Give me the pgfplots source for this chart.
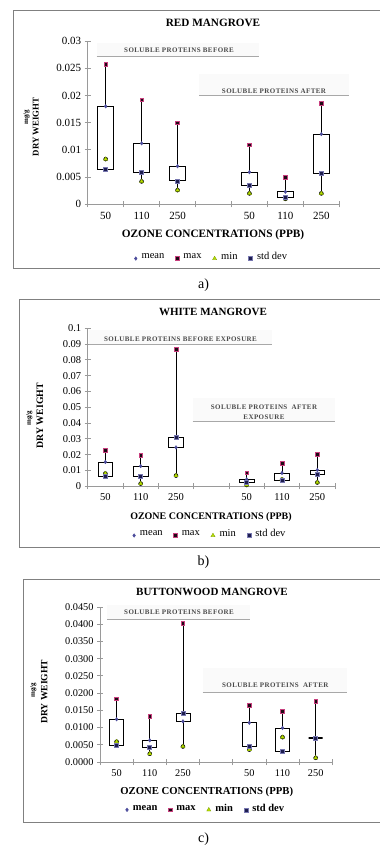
\documentclass[border=0pt]{standalone}
\usepackage{pgfplots}
\pgfplotsset{compat=1.18}
\usepackage{pgfplotstable}
\usepackage{fontspec}
\setmainfont{Liberation Serif}
\newfontfamily\annfont[LetterSpace=6]{Liberation Serif}
\definecolor{meancol}{HTML}{4B4B9B}
\definecolor{maxfill}{HTML}{1E0A14}
\definecolor{maxdraw}{HTML}{C8407F}
\definecolor{minfill}{HTML}{B8E000}
\definecolor{mindraw}{HTML}{7A9A00}
\definecolor{stdfill}{HTML}{1E1E50}
\definecolor{stddraw}{HTML}{7878B0}
\definecolor{axgray}{HTML}{9A9A9A}
\definecolor{framegray}{HTML}{808080}
\definecolor{anntext}{HTML}{4A4A4A}
\definecolor{annline}{HTML}{A8A8A8}
\definecolor{annbg}{HTML}{FAFAFA}

% red mangrove
\pgfplotstableread{
x mean max min std
0 0.0180 0.0257 0.0083 0.0064
1 0.0112 0.0192 0.0042 0.0059
2 0.0070 0.0150 0.0026 0.0043
4 0.0059 0.0109 0.0020 0.0034
5 0.0023 0.0050 0.0010 0.0013
6 0.0129 0.0185 0.0020 0.0057
}\redtab
% white mangrove
\pgfplotstableread{
x mean max min std
0 0.0154 0.0228 0.0081 0.0064
1 0.0128 0.0197 0.0017 0.0062
2 0.0246 0.0867 0.0068 0.0308
4 0.0044 0.0085 0.0008 0.0023
5 0.0084 0.0146 0.0043 0.0035
6 0.0103 0.0202 0.0024 0.0074
}\whitetab
% buttonwood mangrove
\pgfplotstableread{
x mean max min std
0 0.0124 0.0183 0.0059 0.0049
1 0.0063 0.0133 0.0024 0.0043
2 0.0118 0.0403 0.0045 0.0140
4 0.0114 0.0164 0.0036 0.0045
5 0.0099 0.0148 0.0072 0.0031
6 0.0070 0.0176 0.0012 0.0070
}\buttontab

\pgfplotsset{
  stockaxis/.style={
    scale only axis,
    anchor=south west,
    axis x line*=bottom, axis y line*=left,
    axis line style={draw=axgray, line width=0.8pt},
    xmin=-0.5, xmax=6.5, ymin=0,
    scaled y ticks=false,
    xtick={-0.5,0.5,1.5,2.5,3.5,4.5,5.5,6.5}, xticklabels={},
    extra x ticks={0,1,2,4,5,6},
    extra x tick labels={50,110,250,50,110,250},
    extra x tick style={major tick length=0pt},
    x tick label style={yshift=-4pt},
    tick align=center,
    major tick length=6pt,
    tick style={draw=axgray, line width=0.8pt},
    clip=false,
    legend columns=4,
    legend style={draw=none, fill=none, anchor=center,
      /tikz/every odd column/.append style={column sep=2.5pt},
      /tikz/every even column/.append style={column sep=9pt}},
    legend image code/.code={\path (0pt,-3pt) (0pt,3pt); \draw[##1] plot coordinates {(0pt,-1.5pt)};},
  },
}
\newcommand{\stbox}[5][]{\addplot[forget plot, fill=white, draw=black, line width=0.8pt, #1] coordinates {(#2,#4) (#3,#4) (#3,#5) (#2,#5)} -- cycle;}
\newcommand{\stockwhisk}[1]{%
  \addplot[forget plot, only marks, mark=none, error bars/.cd, y dir=plus, y explicit, error mark=none, error bar style={black, line width=0.8pt}] table[x=x, y=min, y error expr=\thisrow{max}-\thisrow{min}]{#1};
}
\newcommand{\stockmarks}[1]{%
  \addplot[only marks, mark=diamond*, mark size=1.8pt, draw=meancol, fill=meancol] table[x=x,y=mean]{#1};
  \addlegendentry{mean}
  \addplot[only marks, mark=square*, mark size=1.8pt, draw=maxdraw, fill=maxfill, line width=0.6pt] table[x=x,y=max]{#1};
  \addlegendentry{max}
  \addplot[only marks, mark=triangle*, mark size=2.4pt, draw=mindraw, fill=minfill, line width=0.3pt] table[x=x,y=min]{#1};
  \addlegendentry{min}
  \addplot[only marks, mark=square*, mark size=2pt, draw=stddraw, fill=stdfill, line width=0.6pt] table[x=x,y=std]{#1};
  \addlegendentry{std dev}
}
\newcommand{\annot}[1]{\annfont\bfseries\fontsize{7}{8}\selectfont #1}

\begin{document}
\begin{tikzpicture}
\useasboundingbox (0pt,0pt) rectangle (380pt,847pt);

% ---------------- panel a ----------------
\draw[framegray, line width=0.9pt] (385pt,837pt) -- (13pt,837pt) -- (13pt,579pt) -- (385pt,579pt);
\fill[annbg] (96.7pt,804pt) rectangle (259.3pt,790.3pt);
\fill[annbg] (199.3pt,773pt) rectangle (349.3pt,751.3pt);
\begin{axis}[stockaxis, at={(87.7pt,642.7pt)}, width=251.6pt, height=163.3pt,
  ymax=0.03,
  ytick={0,0.005,0.01,0.015,0.02,0.025,0.03},
  yticklabels={0,0.005,0.01,0.015,0.02,0.025,0.03},
  tick label style={font=\fontsize{11}{13}\selectfont},
  legend style={at={(0.493,-0.323)}, font=\fontsize{10.5}{12}\selectfont}]
\stockwhisk{\redtab}
\stbox{-0.22}{0.22}{0.0064}{0.0180}
\stbox{0.78}{1.22}{0.0059}{0.0112}
\stbox{1.78}{2.22}{0.0043}{0.0070}
\stbox{3.78}{4.22}{0.0034}{0.0059}
\stbox{4.78}{5.22}{0.0013}{0.0023}
\stbox{5.78}{6.22}{0.0057}{0.0129}
\stockmarks{\redtab}
\end{axis}
\draw[annline, line width=1pt] (96.7pt,790.3pt) -- (259.3pt,790.3pt);
\draw[annline, line width=1pt] (199.3pt,751.3pt) -- (349.3pt,751.3pt);
\node[anchor=base, text=anntext, inner sep=0pt] at (179pt,794.3pt) {\annot{SOLUBLE PROTEINS BEFORE}};
\node[anchor=base, text=anntext, inner sep=0pt] at (274pt,753pt) {\annot{SOLUBLE PROTEINS AFTER}};
\node[font=\fontsize{11.2}{13}\selectfont\bfseries] at (213pt,824pt) {RED MANGROVE};
\node[font=\fontsize{11.3}{13}\selectfont\bfseries] at (213pt,612pt) {OZONE CONCENTRATIONS (PPB)};
\node[rotate=90, font=\fontsize{8.8}{10}\selectfont\bfseries] at (35.7pt,720pt) {DRY WEIGHT};
\node[rotate=90, font=\fontsize{7}{8}\selectfont\bfseries] at (26.7pt,730pt) {mg/g};
\node[font=\fontsize{14}{16}\selectfont] at (203.5pt,562pt) {a)};

% ---------------- panel b ----------------
\draw[framegray, line width=0.9pt] (385pt,548pt) -- (19pt,548pt) -- (19pt,299.3pt) -- (385pt,299.3pt);
\fill[annbg] (89.3pt,517pt) rectangle (271.7pt,502pt);
\fill[annbg] (192.7pt,449pt) rectangle (335pt,425.3pt);
\begin{axis}[stockaxis, at={(87.7pt,360.7pt)}, width=247.3pt, height=158pt,
  ymax=0.1,
  ytick={0,0.01,0.02,0.03,0.04,0.05,0.06,0.07,0.08,0.09,0.1},
  yticklabels={0,0.01,0.02,0.03,0.04,0.05,0.06,0.07,0.08,0.09,0.1},
  tick label style={font=\fontsize{10.5}{12}\selectfont},
  legend style={at={(0.495,-0.302)}, font=\fontsize{10.5}{12}\selectfont}]
\stockwhisk{\whitetab}
\stbox{-0.21}{0.21}{0.0064}{0.0154}
\stbox{0.79}{1.21}{0.0062}{0.0128}
\stbox{1.79}{2.21}{0.0246}{0.0308}
\stbox{3.79}{4.21}{0.0023}{0.0044}
\stbox{4.79}{5.21}{0.0035}{0.0084}
\stbox{5.79}{6.21}{0.0074}{0.0103}
\stockmarks{\whitetab}
\end{axis}
\draw[annline, line width=1pt] (89.3pt,502pt) -- (271.7pt,502pt);
\draw[annline, line width=1pt] (192.7pt,425.3pt) -- (335pt,425.3pt);
\node[anchor=base, text=anntext, inner sep=0pt] at (180.5pt,505.3pt) {\annot{SOLUBLE PROTEINS BEFORE EXPOSURE}};
\node[anchor=base, text=anntext, inner sep=0pt] at (264pt,437pt) {\annot{SOLUBLE PROTEINS~ AFTER}};
\node[anchor=base, text=anntext, inner sep=0pt] at (264pt,427.7pt) {\annot{EXPOSURE}};
\node[font=\fontsize{11}{13}\selectfont\bfseries] at (213pt,535.3pt) {WHITE MANGROVE};
\node[font=\fontsize{10}{12}\selectfont\bfseries] at (211pt,329.7pt) {OZONE CONCENTRATIONS (PPB)};
\node[rotate=90, font=\fontsize{9.8}{11}\selectfont\bfseries] at (40pt,431.3pt) {DRY WEIGHT};
\node[rotate=90, font=\fontsize{7}{8}\selectfont\bfseries] at (29.3pt,429pt) {mg/g};
\node[font=\fontsize{14}{16}\selectfont] at (203.5pt,285pt) {b)};

% ---------------- panel c ----------------
\draw[framegray, line width=0.9pt] (385pt,268pt) -- (23.3pt,268pt) -- (23.3pt,25pt) -- (385pt,25pt);
\fill[annbg] (107.3pt,242pt) rectangle (250pt,227.7pt);
\fill[annbg] (202.7pt,178.7pt) rectangle (347.3pt,154.3pt);
\begin{axis}[stockaxis, at={(100pt,85pt)}, width=232.3pt, height=155pt,
  ymax=0.045,
  ytick={0,0.005,0.01,0.015,0.02,0.025,0.03,0.035,0.04,0.045},
  yticklabels={0.0000,0.0050,0.0100,0.0150,0.0200,0.0250,0.0300,0.0350,0.0400,0.0450},
  tick label style={font=\fontsize{10.3}{12}\selectfont},
  legend style={at={(0.456,-0.299)}, font=\fontsize{10.5}{12}\selectfont\bfseries}]
\stockwhisk{\buttontab}
\stbox{-0.21}{0.21}{0.0049}{0.0124}
\stbox{0.79}{1.21}{0.0043}{0.0063}
\stbox{1.79}{2.21}{0.0118}{0.0140}
\stbox{3.79}{4.21}{0.0045}{0.0114}
\stbox{4.79}{5.21}{0.0031}{0.0099}
\stbox[line width=2pt]{5.79}{6.21}{0.0070}{0.0070}
\stockmarks{\buttontab}
\end{axis}
\draw[annline, line width=1pt] (107.3pt,227.7pt) -- (250pt,227.7pt);
\draw[annline, line width=1pt] (202.7pt,154.3pt) -- (347.3pt,154.3pt);
\node[anchor=base, text=anntext, inner sep=0pt] at (179pt,232.7pt) {\annot{SOLUBLE PROTEINS BEFORE}};
\node[anchor=base, text=anntext, inner sep=0pt] at (275.3pt,159.3pt) {\annot{SOLUBLE PROTEINS~ AFTER}};
\node[font=\fontsize{11}{13}\selectfont\bfseries] at (212pt,255.3pt) {BUTTONWOOD MANGROVE};
\node[font=\fontsize{10.7}{12}\selectfont\bfseries] at (206.7pt,55.3pt) {OZONE CONCENTRATIONS (PPB)};
\node[rotate=90, font=\fontsize{9.6}{11}\selectfont\bfseries] at (44.3pt,155.3pt) {DRY WEIGHT};
\node[rotate=90, font=\fontsize{7}{8}\selectfont\bfseries] at (33.3pt,157pt) {mg/g};
\node[font=\fontsize{14}{16}\selectfont] at (203.5pt,8pt) {c)};
\end{tikzpicture}
\end{document}
